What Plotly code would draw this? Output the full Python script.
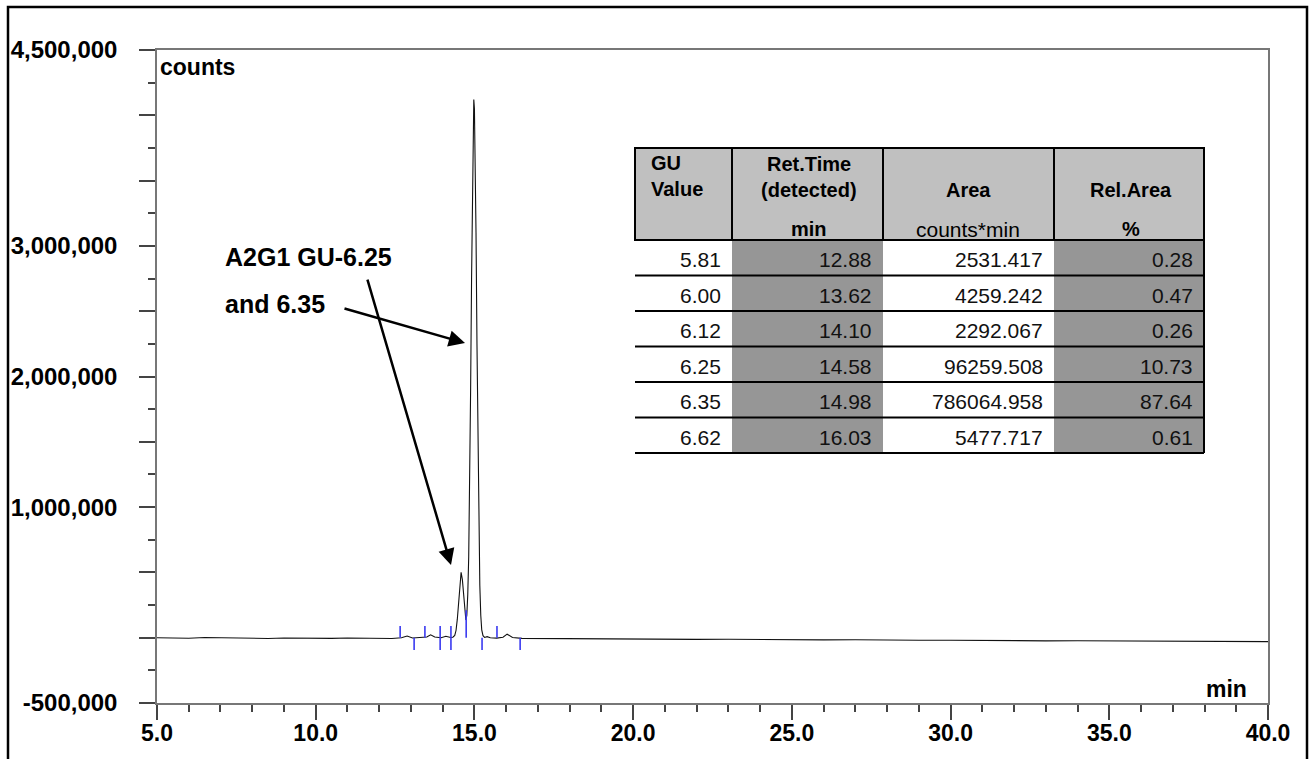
import plotly.graph_objects as go

# ---------------- data ----------------
# chromatogram trace: retention time (min) and signal (counts)
time_min = [5.0, 5.5, 6.0, 6.5, 7.0, 7.5, 8.0, 8.5, 9.0, 9.5, 10.0, 10.5, 11.0, 11.5, 12.0,
            12.4, 12.7, 12.88, 13.05, 13.3, 13.5, 13.62, 13.75, 13.95, 14.10, 14.25,
            14.32, 14.38, 14.42, 14.46, 14.50, 14.54, 14.58, 14.62, 14.66, 14.70, 14.73,
            14.76, 14.79, 14.82, 14.85, 14.88, 14.91, 14.94, 14.96, 14.98, 15.00, 15.02,
            15.05, 15.08, 15.11, 15.14, 15.17, 15.20, 15.23, 15.27, 15.32, 15.40, 15.50,
            15.70, 15.90, 16.03, 16.20, 16.50, 17.0, 18.0, 19.0, 20.0, 21.0, 22.0, 23.0,
            24.0, 25.0, 26.0, 27.0, 28.0, 29.0, 30.0, 31.0, 32.0, 33.0, 34.0, 35.0, 36.0,
            37.0, 38.0, 39.0, 40.0]
signal_counts = [0, -2000, -4000, 1000, -1000, -5000, -3000, -6000, -2000, -4000, -1000, -5000,
                 -2000, -4000, -3000,
                 -6000, 0, 13000, -2000, 0, 5000, 22000, 5000, 0, 11000, 2000,
                 4000, 18000, 55000, 140000, 280000, 430000, 500000, 445000, 310000, 190000, 135000,
                 170000, 330000, 620000, 1150000, 1900000, 2750000, 3550000, 3950000, 4120000, 4050000, 3780000,
                 3100000, 2250000, 1450000, 820000, 400000, 170000, 60000, 15000, 2000, 8000, 0,
                 -3000, 3000, 27000, 2000, -5000, -6000, -9000, -8000, -11000, -10000, -13000, -12000,
                 -15000, -14000, -17000, -16000, -19000, -20000, -19000, -22000, -21000, -24000, -23000,
                 -25000, -27000, -26000, -28000, -29000, -30000]

# integration markers (blue ticks)
marker_times = [12.66, 13.10, 13.44, 13.92, 14.26, 14.74, 15.24, 15.71, 16.44]
marker_top = [90000, 0, 90000, 90000, 90000, 210000, 0, 90000, 0]
marker_bottom = [0, -95000, 0, -95000, -95000, 0, -95000, 0, -95000]

# axis ticks
x_tick_vals = [5, 10, 15, 20, 25, 30, 35, 40]
x_tick_text = ["5.0", "10.0", "15.0", "20.0", "25.0", "30.0", "35.0", "40.0"]
y_tick_vals = [-500000, 0, 500000, 1000000, 1500000, 2000000, 2500000, 3000000,
               3500000, 4000000, 4500000]
y_tick_text = ["-500,000", "", "", "1,000,000", "", "2,000,000", "", "3,000,000",
               "", "", "4,500,000"]

# peak table
gu_values = [5.81, 6.00, 6.12, 6.25, 6.35, 6.62]
ret_times = [12.88, 13.62, 14.10, 14.58, 14.98, 16.03]
areas = [2531.417, 4259.242, 2292.067, 96259.508, 786064.958, 5477.717]
rel_areas = [0.28, 0.47, 0.26, 10.73, 87.64, 0.61]

# annotation arrows: (head time, head counts)
arrow_heads = [(14.262, 556000), (14.703, 2256000)]

# ---------------- layout helpers ----------------
W, H = 1310, 759
ML, MR, MT, MB = 157, 42, 50, 56
PW, PH = W - ML - MR, H - MT - MB
FONT = "Liberation Sans, Arial, sans-serif"


def px2x(px):
    return (px - ML) / PW


def px2y(py):
    return (H - MB - py) / PH


fig = go.Figure()

fig.add_trace(go.Scatter(x=time_min, y=signal_counts, mode="lines",
                         line=dict(color="#111111", width=1.1), hoverinfo="skip",
                         showlegend=False))

mx, my = [], []
for t, top, bot in zip(marker_times, marker_top, marker_bottom):
    mx += [t, t, None]
    my += [bot, top, None]
fig.add_trace(go.Scatter(x=mx, y=my, mode="lines", line=dict(color="#3a3af0", width=1.6),
                         hoverinfo="skip", showlegend=False))

shapes = []
annotations = []

# outer frame
shapes.append(dict(type="rect", xref="paper", yref="paper",
                   x0=px2x(8), x1=px2x(1307), y0=px2y(7), y1=px2y(820),
                   line=dict(color="black", width=2.5), fillcolor="rgba(0,0,0,0)", layer="above"))

# ---------------- table ----------------
T_L, T_R = 635, 1204
COLS = [635, 732, 883, 1054, 1204]
HEAD_T, HEAD_B = 148, 240
ROW_H = 35.5
NROW = len(gu_values)
DARK = "#969696"
LIGHT = "#c0c0c0"

# header background
shapes.append(dict(type="rect", xref="paper", yref="paper",
                   x0=px2x(T_L), x1=px2x(T_R), y0=px2y(HEAD_B), y1=px2y(HEAD_T),
                   fillcolor=LIGHT, line=dict(width=0), layer="above"))
# dark columns in body
for ci in (1, 3):
    shapes.append(dict(type="rect", xref="paper", yref="paper",
                       x0=px2x(COLS[ci]), x1=px2x(COLS[ci + 1]),
                       y0=px2y(HEAD_B + ROW_H * NROW), y1=px2y(HEAD_B),
                       fillcolor=DARK, line=dict(width=0), layer="above"))
# header border
shapes.append(dict(type="rect", xref="paper", yref="paper",
                   x0=px2x(T_L), x1=px2x(T_R), y0=px2y(HEAD_B), y1=px2y(HEAD_T),
                   fillcolor="rgba(0,0,0,0)", line=dict(color="black", width=2), layer="above"))
for cx in COLS[1:-1]:
    shapes.append(dict(type="line", xref="paper", yref="paper",
                       x0=px2x(cx), x1=px2x(cx), y0=px2y(HEAD_B), y1=px2y(HEAD_T),
                       line=dict(color="black", width=2), layer="above"))
# body row lines
for r in range(1, NROW + 1):
    yy = HEAD_B + ROW_H * r
    shapes.append(dict(type="line", xref="paper", yref="paper",
                       x0=px2x(T_L), x1=px2x(T_R), y0=px2y(yy), y1=px2y(yy),
                       line=dict(color="black", width=2), layer="above"))
shapes.append(dict(type="line", xref="paper", yref="paper",
                   x0=px2x(T_R), x1=px2x(T_R), y0=px2y(HEAD_B),
                   y1=px2y(HEAD_B + ROW_H * NROW),
                   line=dict(color="black", width=2), layer="above"))


def txt(text, px, py, xanchor="center", size=20, bold=False, color="black"):
    annotations.append(dict(text=text, xref="paper", yref="paper", x=px2x(px), y=px2y(py),
                            xanchor=xanchor, yanchor="middle", showarrow=False,
                            font=dict(family=FONT, size=size, color=color,
                                      weight="bold" if bold else "normal")))


# header texts
txt("GU", 649, 163, xanchor="left", bold=True)
txt("Value", 649, 189, xanchor="left", bold=True)
txt("Ret.Time", 809, 164, bold=True)
txt("(detected)", 809, 190, bold=True)
txt("min", 809, 229, bold=True)
txt("Area", 968, 190, bold=True)
txt("counts*min", 968, 229, size=21)
txt("Rel.Area", 1131, 190, bold=True)
txt("%", 1131, 229, bold=True)

cols_vals = [[f"{v:.2f}" for v in gu_values], [f"{v:.2f}" for v in ret_times],
             [f"{v:.3f}" for v in areas], [f"{v:.2f}" for v in rel_areas]]
for ci, vals in enumerate(cols_vals):
    for r, s in enumerate(vals):
        cy = HEAD_B + ROW_H * r + ROW_H / 2 + 2
        txt(s, COLS[ci + 1] - 9, cy, xanchor="right", size=21,
            color="#111111")

# axis titles inside the plot
txt("counts", 158, 67, xanchor="left", size=23, bold=True)
txt("min", 1249, 689, xanchor="right", size=23, bold=True)

# peak label
txt("A2G1 GU-6.25", 223, 257, xanchor="left", size=25, bold=True)
txt("and 6.35", 223, 304, xanchor="left", size=25, bold=True)

# arrows
arrow_tails_px = [(-84, -287), (-122, -35)]
for (hx, hy), (ax, ay) in zip(arrow_heads, arrow_tails_px):
    annotations.append(dict(x=hx, y=hy, xref="x", yref="y", ax=ax, ay=ay,
                            text="", showarrow=True, arrowhead=2, arrowsize=1.3,
                            arrowwidth=2.5, arrowcolor="black", standoff=0, startstandoff=0))

fig.update_layout(
    width=W, height=H,
    margin=dict(l=ML, r=MR, t=MT, b=MB, pad=0, autoexpand=False),
    paper_bgcolor="white", plot_bgcolor="white",
    shapes=shapes, annotations=annotations,
    font=dict(family=FONT, color="black"),
    showlegend=False,
)
fig.update_xaxes(range=[5, 40], tickmode="array", tickvals=x_tick_vals, ticktext=x_tick_text,
                 ticks="outside", ticklen=15, tickwidth=1.5, tickcolor="#444",
                 minor=dict(tickmode="linear", tick0=5, dtick=1, ticks="outside", ticklen=7,
                            tickwidth=1.5, tickcolor="#444"),
                 showline=True, linecolor="#777", linewidth=1.5, mirror=True,
                 showgrid=False, zeroline=False, automargin=False, ticklabelstandoff=-6,
                 tickfont=dict(family=FONT, size=23, color="black", weight="bold"))
fig.update_yaxes(range=[-500000, 4500000], tickmode="array", tickvals=y_tick_vals,
                 ticktext=y_tick_text,
                 ticks="outside", ticklen=16, tickwidth=1.5, tickcolor="#444",
                 minor=dict(tickmode="linear", tick0=0, dtick=250000, ticks="outside", ticklen=7,
                            tickwidth=1.5, tickcolor="#444"),
                 showline=True, linecolor="#777", linewidth=1.5, mirror=True,
                 showgrid=False, zeroline=False, automargin=False, ticklabelstandoff=17,
                 tickfont=dict(family=FONT, size=24, color="black", weight="bold"))

fig.write_html("out.html", config={"displayModeBar": False},
               post_script="document.body.style.margin='0';")
